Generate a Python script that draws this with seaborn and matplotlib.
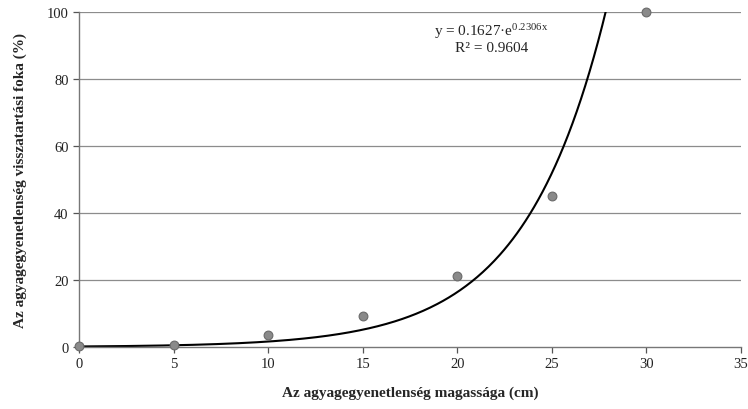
import numpy as np
import pandas as pd
import matplotlib
matplotlib.use("Agg")
import matplotlib.pyplot as plt
import seaborn as sns

# measured points
height_cm = [0, 5, 10, 15, 20, 25, 30]
retention_pct = [0.3, 0.5, 3.5, 9.3, 21.3, 45, 100]

# exponential trend line parameters (from the chart)
fit_a = 0.1627
fit_b = 0.2306
fit_label = r"y = 0.1627·e$^{\mathrm{0.2306x}}$"
r2_label = "R² = 0.9604"

sns.set_theme(style="white")
plt.rcParams['font.family'] = ['Liberation Serif', 'DejaVu Serif']
plt.rcParams['mathtext.fontset'] = 'custom'
plt.rcParams['mathtext.rm'] = 'Liberation Serif'
plt.rcParams['mathtext.it'] = 'Liberation Serif:italic'

df = pd.DataFrame({"x": height_cm, "y": retention_pct})
xs = np.linspace(0, 30, 400)
trend = pd.DataFrame({"x": xs, "y": fit_a * np.exp(fit_b * xs)})

fig = plt.figure(figsize=(7.48, 4.10), dpi=100)
ax = fig.add_axes([0.1056, 0.1512, 0.885, 0.8171])

for yv in [20, 40, 60, 80, 100]:
    ax.axhline(yv, color="#8c8c8c", lw=0.9, zorder=0)

sns.lineplot(data=trend, x="x", y="y", ax=ax, color="black", lw=1.5, zorder=2)
sns.scatterplot(data=df, x="x", y="y", ax=ax, color="#8a8a8a", edgecolor="#6a6a6a",
                s=40, linewidth=0.8, zorder=3, clip_on=False)

ax.set_xlim(0, 35)
ax.set_ylim(0, 100)
ax.set_xticks(range(0, 36, 5))
ax.set_yticks(range(0, 101, 20))
ax.tick_params(axis="both", labelsize=10.5, colors="#555555", length=4, width=0.9,
               direction="out", left=True, bottom=True)
for lab in ax.get_xticklabels() + ax.get_yticklabels():
    lab.set_color("#222222")

for side in ["top", "right"]:
    ax.spines[side].set_visible(False)
for side in ["left", "bottom"]:
    ax.spines[side].set_color("#777777")
    ax.spines[side].set_linewidth(1.0)

ax.set_xlabel("Az agyagegyenetlenség magassága (cm)", fontsize=11, fontweight="bold", labelpad=11)
ax.set_ylabel("Az agyagegyenetlenség visszatartási foka (%)", fontsize=11, fontweight="bold", labelpad=14)

ax.text(21.8, 94.5, fit_label, ha="center", va="center", fontsize=11)
ax.text(21.8, 89.5, r2_label, ha="center", va="center", fontsize=11)

fig.savefig("out.png", dpi=100)
